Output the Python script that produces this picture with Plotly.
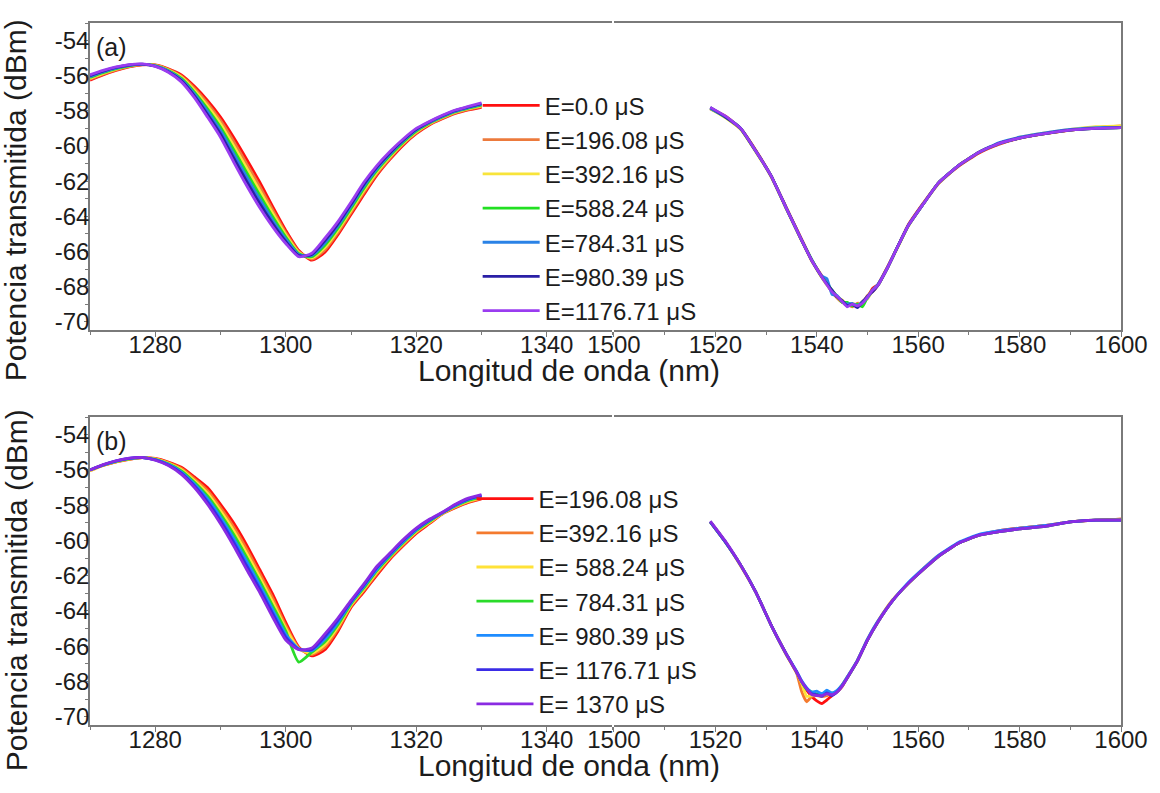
import plotly.graph_objects as go

# ---------------- data ----------------
# wavelength grids (nm)
X_LEFT = [1270, 1272, 1274, 1276, 1278, 1280, 1282, 1284, 1286, 1288, 1290, 1292, 1294, 1296, 1298,
          1300, 1302, 1304, 1306, 1308, 1310, 1312, 1314, 1316, 1318, 1320, 1322, 1324, 1326, 1328, 1330]
X_A_RIGHT = [1519, 1522, 1525, 1528, 1531, 1534, 1537, 1539, 1541, 1542, 1543, 1544, 1545, 1546, 1547,
             1548, 1549, 1550, 1551, 1552, 1554, 1556, 1558, 1561, 1564, 1568, 1572, 1576, 1580, 1585,
             1590, 1595, 1600]
X_B_RIGHT = [1519, 1522, 1525, 1528, 1531, 1534, 1536, 1537, 1538, 1539, 1540, 1541, 1542, 1543, 1544,
             1545, 1546, 1548, 1550, 1552, 1555, 1558, 1561, 1564, 1568, 1572, 1576, 1580, 1585, 1590,
             1595, 1600]

# panel (a) labels and colours
LABELS_A = ["E=0.0 μS", "E=196.08 μS", "E=392.16 μS", "E=588.24 μS",
            "E=784.31 μS", "E=980.39 μS", "E=1176.71 μS"]
COLORS_A = ["#FF1010", "#EC7A3C", "#F8E43A", "#22E022", "#2A82E6", "#2A1FA6", "#9A3CF0"]

# panel (a), 1270-1330 nm band (dBm)
A_LEFT = [
    [-56.25, -55.95, -55.70, -55.50, -55.38, -55.38, -55.60, -55.95, -56.60, -57.40, -58.35, -59.50, -60.75, -62.05, -63.45, -64.80, -65.95, -66.50, -66.05, -65.05, -63.90, -62.75, -61.65, -60.75, -59.95, -59.30, -58.80, -58.45, -58.15, -57.95, -57.80],
    [-56.20, -55.91, -55.67, -55.48, -55.37, -55.40, -55.63, -56.02, -56.71, -57.56, -58.54, -59.73, -61.00, -62.29, -63.64, -64.93, -66.01, -66.43, -65.92, -64.93, -63.78, -62.63, -61.56, -60.68, -59.89, -59.25, -58.77, -58.42, -58.12, -57.92, -57.76],
    [-56.15, -55.87, -55.63, -55.46, -55.36, -55.41, -55.67, -56.08, -56.82, -57.72, -58.73, -59.97, -61.25, -62.53, -63.83, -65.05, -66.07, -66.37, -65.78, -64.80, -63.67, -62.52, -61.47, -60.60, -59.83, -59.20, -58.73, -58.38, -58.08, -57.88, -57.72],
    [-56.10, -55.83, -55.60, -55.44, -55.36, -55.43, -55.70, -56.15, -56.93, -57.88, -58.93, -60.20, -61.50, -62.78, -64.03, -65.18, -66.13, -66.30, -65.65, -64.68, -63.55, -62.40, -61.38, -60.53, -59.78, -59.15, -58.70, -58.35, -58.05, -57.85, -57.68],
    [-56.05, -55.78, -55.57, -55.41, -55.35, -55.44, -55.73, -56.22, -57.03, -58.03, -59.12, -60.43, -61.75, -63.02, -64.22, -65.30, -66.18, -66.23, -65.52, -64.55, -63.43, -62.28, -61.28, -60.45, -59.72, -59.10, -58.67, -58.32, -58.02, -57.82, -57.63],
    [-56.00, -55.74, -55.53, -55.39, -55.34, -55.46, -55.77, -56.28, -57.14, -58.19, -59.31, -60.67, -62.00, -63.26, -64.41, -65.43, -66.24, -66.17, -65.38, -64.43, -63.32, -62.17, -61.19, -60.38, -59.66, -59.05, -58.63, -58.28, -57.98, -57.78, -57.59],
    [-55.95, -55.70, -55.50, -55.37, -55.33, -55.47, -55.80, -56.35, -57.25, -58.35, -59.50, -60.90, -62.25, -63.50, -64.60, -65.55, -66.30, -66.10, -65.25, -64.30, -63.20, -62.05, -61.10, -60.30, -59.60, -59.00, -58.60, -58.25, -57.95, -57.75, -57.55],
]

# panel (a), 1519-1600 nm band (dBm)
A_RIGHT = [
    [-57.85, -58.30, -59.00, -60.25, -61.70, -63.50, -65.30, -66.50, -67.40, -67.85, -68.30, -68.60, -68.85, -69.10, -69.00, -69.15, -68.85, -68.60, -68.10, -67.90, -66.85, -65.70, -64.50, -63.25, -62.10, -61.15, -60.40, -59.90, -59.55, -59.30, -59.10, -58.95, -58.90],
    [-57.90, -58.35, -59.05, -60.30, -61.75, -63.55, -65.35, -66.55, -67.45, -67.90, -68.30, -68.65, -68.90, -69.00, -69.15, -68.95, -68.95, -68.50, -68.30, -67.95, -66.90, -65.70, -64.55, -63.30, -62.15, -61.10, -60.35, -59.85, -59.55, -59.30, -59.10, -58.95, -58.85],
    [-57.85, -58.40, -59.05, -60.35, -61.70, -63.60, -65.40, -66.50, -67.50, -67.90, -68.25, -68.60, -68.75, -69.05, -68.95, -69.05, -68.85, -68.70, -68.25, -67.95, -66.90, -65.75, -64.60, -63.30, -62.10, -61.10, -60.35, -59.85, -59.50, -59.25, -59.05, -58.90, -58.85],
    [-57.85, -58.35, -59.00, -60.30, -61.70, -63.55, -65.35, -66.45, -67.45, -67.80, -68.20, -68.55, -68.90, -68.90, -69.10, -69.00, -69.15, -68.60, -68.20, -67.95, -66.90, -65.70, -64.55, -63.30, -62.10, -61.10, -60.35, -59.85, -59.55, -59.30, -59.10, -59.00, -58.95],
    [-57.85, -58.35, -59.00, -60.30, -61.70, -63.55, -65.35, -66.50, -67.40, -67.55, -68.45, -68.50, -68.85, -69.00, -68.95, -69.10, -68.85, -68.65, -68.20, -67.90, -66.90, -65.70, -64.55, -63.30, -62.10, -61.10, -60.35, -59.80, -59.50, -59.25, -59.05, -58.95, -58.95],
    [-57.80, -58.35, -59.00, -60.30, -61.70, -63.55, -65.35, -66.50, -67.45, -67.85, -68.20, -68.60, -68.80, -69.10, -69.00, -69.20, -68.90, -68.55, -68.30, -67.95, -66.90, -65.70, -64.55, -63.30, -62.10, -61.10, -60.35, -59.85, -59.55, -59.30, -59.10, -59.00, -58.95],
    [-57.80, -58.30, -59.00, -60.30, -61.70, -63.55, -65.35, -66.50, -67.45, -67.90, -68.30, -68.55, -68.85, -69.15, -69.00, -69.10, -68.95, -68.60, -68.20, -67.95, -66.90, -65.70, -64.55, -63.30, -62.10, -61.10, -60.35, -59.85, -59.55, -59.30, -59.10, -59.00, -58.95],
]

# panel (b) labels and colours
LABELS_B = ["E=196.08 μS", "E=392.16 μS", "E= 588.24 μS", "E= 784.31 μS",
            "E= 980.39 μS", "E= 1176.71 μS", "E= 1370 μS"]
COLORS_B = ["#FF1010", "#F47A2E", "#FFE238", "#2ADB2A", "#1E8CFF", "#3A2CE6", "#8A2BE2"]

# panel (b), 1270-1330 nm band (dBm)
B_LEFT = [
    [-56.00, -55.75, -55.55, -55.40, -55.30, -55.35, -55.55, -55.85, -56.40, -57.00, -57.95, -59.00, -60.25, -61.65, -63.05, -64.65, -66.05, -66.55, -66.20, -65.15, -63.80, -62.90, -61.95, -61.05, -60.30, -59.60, -59.05, -58.50, -58.15, -57.85, -57.65],
    [-56.05, -55.74, -55.54, -55.39, -55.30, -55.37, -55.58, -55.92, -56.50, -57.16, -58.13, -59.22, -60.48, -61.87, -63.27, -64.82, -66.10, -66.47, -66.05, -65.02, -63.73, -62.82, -61.87, -60.99, -60.24, -59.55, -59.01, -58.48, -58.12, -57.81, -57.61],
    [-56.05, -55.73, -55.53, -55.38, -55.30, -55.38, -55.62, -55.98, -56.60, -57.32, -58.32, -59.43, -60.72, -62.08, -63.49, -64.98, -66.15, -66.40, -65.90, -64.90, -63.67, -62.75, -61.78, -60.93, -60.18, -59.50, -58.97, -58.47, -58.08, -57.77, -57.57],
    [-56.00, -55.73, -55.52, -55.37, -55.30, -55.40, -55.65, -56.05, -56.70, -57.48, -58.50, -59.65, -60.95, -62.30, -63.71, -65.15, -66.90, -66.33, -65.75, -64.78, -63.60, -62.68, -61.70, -60.88, -60.13, -59.45, -58.93, -58.45, -58.05, -57.73, -57.53],
    [-56.00, -55.72, -55.50, -55.35, -55.30, -55.42, -55.68, -56.12, -56.80, -57.63, -58.68, -59.87, -61.18, -62.52, -63.92, -65.32, -66.15, -66.25, -65.60, -64.65, -63.53, -62.60, -61.62, -60.82, -60.07, -59.40, -58.88, -58.43, -58.02, -57.68, -57.48],
    [-56.00, -55.71, -55.49, -55.34, -55.30, -55.43, -55.72, -56.18, -56.90, -57.79, -58.87, -60.08, -61.42, -62.73, -64.14, -65.48, -66.18, -66.18, -65.45, -64.52, -63.47, -62.52, -61.53, -60.76, -60.01, -59.35, -58.84, -58.42, -57.98, -57.64, -57.44],
    [-56.00, -55.70, -55.48, -55.33, -55.29, -55.45, -55.75, -56.25, -57.00, -57.95, -59.05, -60.30, -61.65, -62.95, -64.36, -65.65, -66.20, -66.10, -65.30, -64.40, -63.40, -62.45, -61.45, -60.70, -59.95, -59.30, -58.80, -58.40, -57.95, -57.60, -57.40],
]

# panel (b), 1519-1600 nm band (dBm)
B_RIGHT = [
    [-58.95, -60.10, -61.40, -62.95, -64.80, -66.45, -67.50, -68.05, -68.50, -68.85, -69.10, -69.25, -69.05, -68.80, -68.60, -68.30, -67.80, -66.85, -65.65, -64.65, -63.40, -62.45, -61.65, -60.90, -60.15, -59.70, -59.45, -59.30, -59.15, -58.95, -58.85, -58.80],
    [-58.95, -60.10, -61.45, -62.95, -64.80, -66.50, -67.50, -68.55, -69.15, -68.85, -68.80, -68.85, -68.80, -68.70, -68.55, -68.20, -67.75, -66.80, -65.60, -64.60, -63.35, -62.45, -61.60, -60.85, -60.15, -59.70, -59.50, -59.30, -59.15, -58.95, -58.85, -58.80],
    [-58.95, -60.10, -61.40, -62.95, -64.80, -66.45, -67.45, -68.10, -68.85, -68.80, -68.75, -68.80, -68.70, -68.65, -68.60, -68.25, -67.80, -66.85, -65.65, -64.65, -63.40, -62.45, -61.65, -60.90, -60.15, -59.70, -59.50, -59.35, -59.20, -58.95, -58.85, -58.85],
    [-58.95, -60.10, -61.40, -62.95, -64.80, -66.45, -67.45, -68.00, -68.45, -68.60, -68.70, -68.75, -68.65, -68.70, -68.55, -68.20, -67.80, -66.85, -65.65, -64.65, -63.40, -62.45, -61.65, -60.90, -60.15, -59.70, -59.50, -59.35, -59.20, -58.95, -58.85, -58.85],
    [-58.95, -60.10, -61.40, -62.95, -64.80, -66.45, -67.40, -67.95, -68.35, -68.60, -68.55, -68.70, -68.50, -68.65, -68.50, -68.20, -67.75, -66.80, -65.60, -64.60, -63.40, -62.40, -61.60, -60.85, -60.10, -59.65, -59.45, -59.30, -59.15, -58.95, -58.85, -58.85],
    [-58.95, -60.10, -61.40, -62.95, -64.80, -66.45, -67.45, -68.00, -68.40, -68.70, -68.75, -68.85, -68.65, -68.80, -68.60, -68.25, -67.80, -66.85, -65.65, -64.65, -63.40, -62.45, -61.65, -60.90, -60.15, -59.70, -59.50, -59.35, -59.20, -58.95, -58.85, -58.85],
    [-58.90, -60.05, -61.40, -62.95, -64.80, -66.45, -67.45, -68.00, -68.40, -68.75, -68.80, -68.80, -68.70, -68.75, -68.60, -68.25, -67.80, -66.85, -65.65, -64.65, -63.40, -62.45, -61.65, -60.90, -60.15, -59.70, -59.50, -59.35, -59.20, -58.95, -58.85, -58.85],
]

# axis ticks
Y_TICKS = [-54, -56, -58, -60, -62, -64, -66, -68, -70]
Y_TICK_TEXT = ["-54", "-56", "-58", "-60", "-62", "-64", "-66", "-68", "-70"]
X_TICKS_LEFT = [1280, 1300, 1320, 1340]
X_TICKS_RIGHT = [1500, 1520, 1540, 1560, 1580, 1600]

for grp, grid in ((A_LEFT, X_LEFT), (B_LEFT, X_LEFT), (A_RIGHT, X_A_RIGHT), (B_RIGHT, X_B_RIGHT)):
    for row in grp:
        assert len(row) == len(grid)

# ---------------- figure ----------------
FONT = "Liberation Sans, Arial, Helvetica, sans-serif"
AXIS_GREY = "#7a7a7a"
TEXT = "#1c1c1c"
LW = 2.8

fig = go.Figure()

panels = [
    (A_LEFT, A_RIGHT, X_A_RIGHT, LABELS_A, COLORS_A, ("x", "y"), ("x2", "y2"), "legend"),
    (B_LEFT, B_RIGHT, X_B_RIGHT, LABELS_B, COLORS_B, ("x3", "y3"), ("x4", "y4"), "legend2"),
]
for left, right, xr, labels, colors, ax_l, ax_r, leg in panels:
    for i in range(len(labels)):
        fig.add_trace(go.Scatter(
            x=X_LEFT, y=left[i], mode="lines", name=labels[i],
            line=dict(color=colors[i], width=LW, shape="spline", smoothing=0.6),
            xaxis=ax_l[0], yaxis=ax_l[1], legend=leg, legendgroup=leg + str(i),
        ))
        fig.add_trace(go.Scatter(
            x=xr, y=right[i], mode="lines", name=labels[i], showlegend=False,
            line=dict(color=colors[i], width=LW, shape="spline", smoothing=0.4),
            xaxis=ax_r[0], yaxis=ax_r[1], legendgroup=leg + str(i),
        ))

Y_RANGE = [-70.47, -53.0]
DOM_A = [0.5627, 1.0]
DOM_B = [0.0, 0.4387]
DOM_XL = [0.0, 0.5063]
DOM_XR = [0.5082, 1.0]

tickfont = dict(family=FONT, size=24, color=TEXT)


def xaxis(domain, anchor, rng, ticks):
    return dict(
        domain=domain, anchor=anchor, range=rng, tickvals=ticks,
        showline=True, linecolor=AXIS_GREY, linewidth=1.6, mirror=True,
        ticks="outside", ticklen=5, tickwidth=1.3, tickcolor=AXIS_GREY,
        ticklabelstandoff=-13,
        minor=dict(dtick=10, tick0=1270, ticks="outside", ticklen=3, tickwidth=1.2,
                   tickcolor=AXIS_GREY, showgrid=False),
        showgrid=False, zeroline=False, tickfont=tickfont,
    )


def yaxis_left(domain, anchor):
    return dict(
        domain=domain, anchor=anchor, range=Y_RANGE, tickvals=Y_TICKS, ticktext=Y_TICK_TEXT,
        showline=True, linecolor=AXIS_GREY, linewidth=1.6, mirror=False,
        ticks="outside", ticklen=4, tickwidth=1.3, tickcolor=AXIS_GREY,
        ticklabelstandoff=-10,
        minor=dict(dtick=1, tick0=-53, ticks="outside", ticklen=3, tickwidth=1.2,
                   tickcolor=AXIS_GREY, showgrid=False),
        showgrid=False, zeroline=False, tickfont=tickfont,
    )


def yaxis_right(domain, anchor):
    return dict(
        domain=domain, anchor=anchor, range=Y_RANGE, side="right",
        showline=True, linecolor=AXIS_GREY, linewidth=1.6, mirror=False,
        ticks="", showticklabels=False, showgrid=False, zeroline=False,
    )


legend_common = dict(
    xanchor="left", yanchor="top", bgcolor="rgba(0,0,0,0)", borderwidth=0,
    font=dict(family=FONT, size=24, color=TEXT), itemwidth=57, tracegroupgap=0,
    itemclick=False, itemdoubleclick=False,
)

fig.update_layout(
    width=1160, height=793,
    margin=dict(l=90, r=37, t=23, b=68),
    paper_bgcolor="white", plot_bgcolor="white",
    showlegend=True,
    xaxis=xaxis(DOM_XL, "y", [1270, 1350], X_TICKS_LEFT),
    xaxis2=xaxis(DOM_XR, "y2", [1500, 1600], X_TICKS_RIGHT),
    xaxis3=xaxis(DOM_XL, "y3", [1270, 1350], X_TICKS_LEFT),
    xaxis4=xaxis(DOM_XR, "y4", [1500, 1600], X_TICKS_RIGHT),
    yaxis=yaxis_left(DOM_A, "x"),
    yaxis2=yaxis_right(DOM_A, "x2"),
    yaxis3=yaxis_left(DOM_B, "x3"),
    yaxis4=yaxis_right(DOM_B, "x4"),
    legend=dict(x=0.376, y=0.914, **legend_common),
    legend2=dict(x=0.370, y=0.354, **legend_common),
)

title_font = dict(family=FONT, size=30, color=TEXT)
annotations = [
    dict(text="(a)", x=0.0213, y=0.9658, font=dict(family=FONT, size=25, color=TEXT)),
    dict(text="(b)", x=0.0213, y=0.4046, font=dict(family=FONT, size=25, color=TEXT)),
    dict(text="Longitud de onda (nm)", x=0.4647, y=0.5050, font=title_font),
    dict(text="Longitud de onda (nm)", x=0.4647, y=-0.0570, font=title_font),
    dict(text="Potencia transmitida (dBm)", x=-0.0716, y=0.7479, textangle=-90, font=title_font),
    dict(text="Potencia transmitida (dBm)", x=-0.0716, y=0.1923, textangle=-90, font=title_font),
]
for a in annotations:
    fig.add_annotation(xref="paper", yref="paper", showarrow=False,
                       xanchor="center", yanchor="middle", **a)

fig.write_html("out.html")
